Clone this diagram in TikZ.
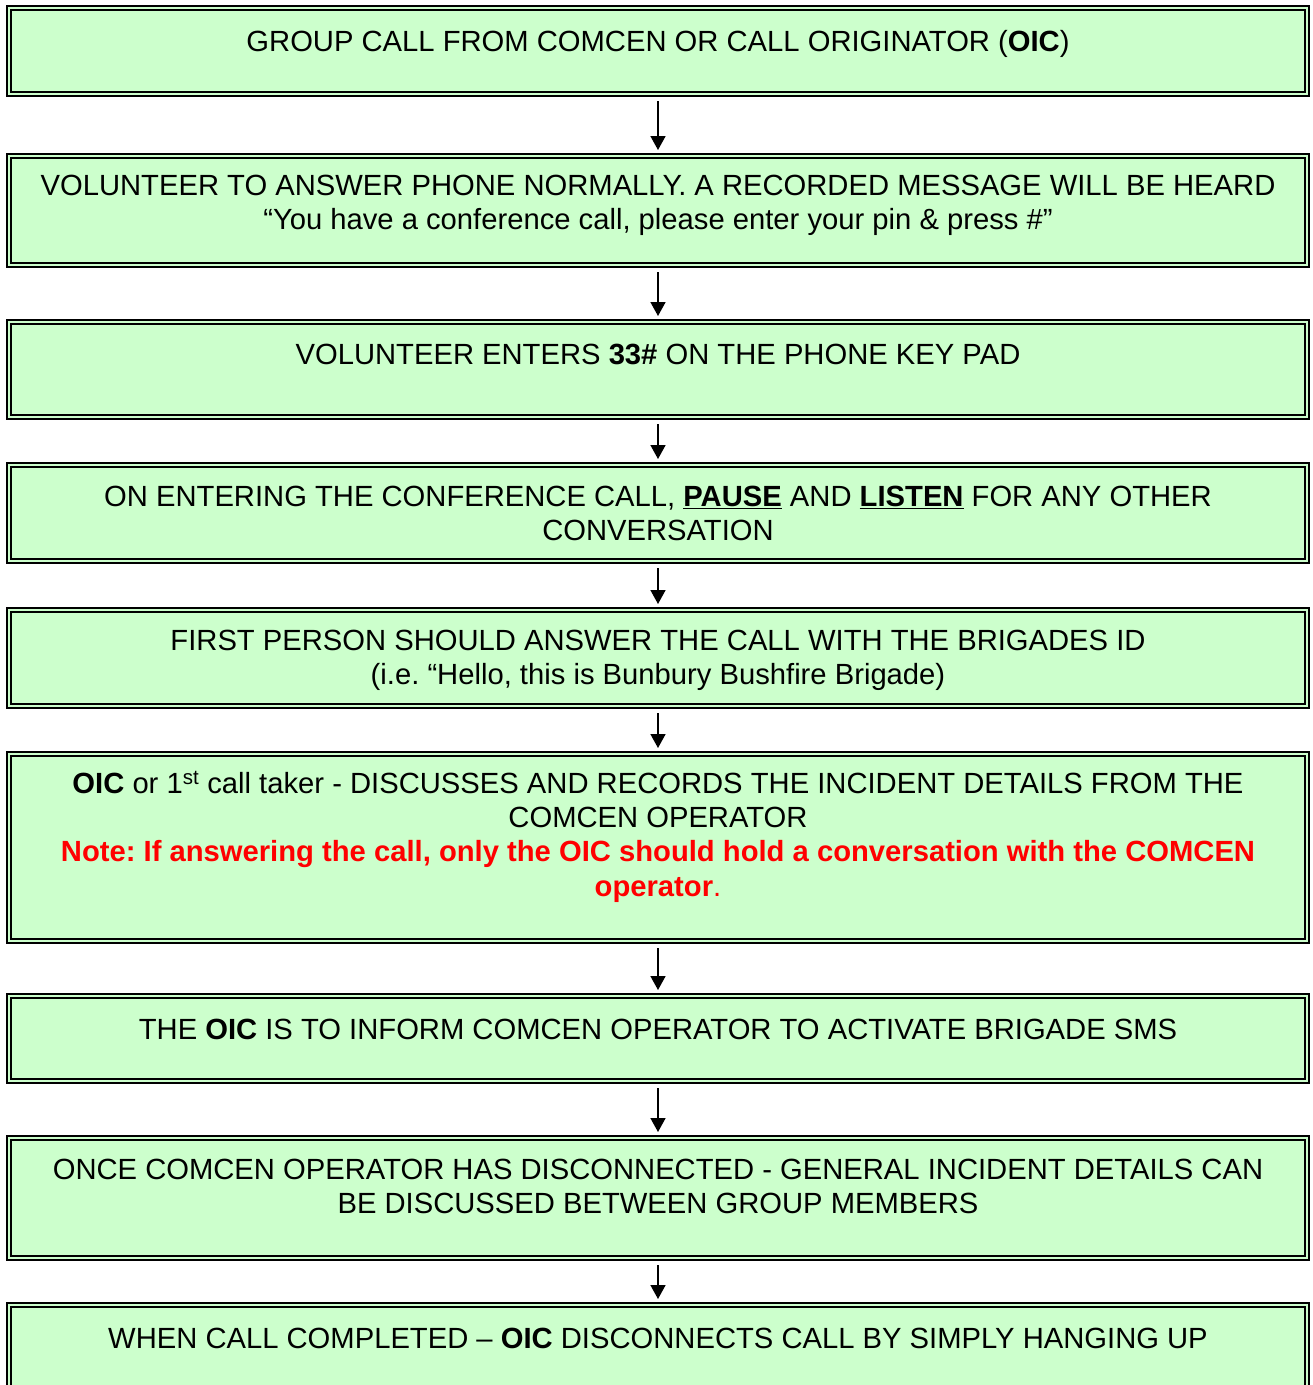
\documentclass[tikz,border=0pt]{standalone}
\usepackage{fontspec}
\setmainfont{Liberation Sans}
\usetikzlibrary{arrows.meta}
\definecolor{boxgreen}{HTML}{CCFFCC}
\definecolor{notered}{HTML}{FF0000}
\frenchspacing
\begin{document}
\frenchspacing
\begin{tikzpicture}[x=1pt,y=-1pt,
  flowbox/.style={draw=black,line width=2pt,double=boxgreen,double distance=2.2pt,fill=boxgreen},
  flowtext/.style={anchor=north,inner sep=0pt,align=center,font=\fontsize{29.2}{34}\selectfont\frenchspacing},
  flowarrow/.style={line width=1.6pt,-{Triangle[width=15pt,length=14pt]},shorten <=4pt,shorten >=3pt}]
\useasboundingbox (0,0) rectangle (1313,1385);
% boxes (path at outer edge +3)
\path[flowbox] (9,8) rectangle (1307,94);
\coordinate (b1s) at (658,97);
\path[flowbox] (9,156) rectangle (1307,265);
\coordinate (b2n) at (658,153); \coordinate (b2s) at (658,268);
\path[flowbox] (9,322) rectangle (1307,417);
\coordinate (b3n) at (658,319); \coordinate (b3s) at (658,420);
\path[flowbox] (9,465) rectangle (1307,561);
\coordinate (b4n) at (658,462); \coordinate (b4s) at (658,564);
\path[flowbox] (9,610) rectangle (1307,706);
\coordinate (b5n) at (658,607); \coordinate (b5s) at (658,709);
\path[flowbox] (9,754) rectangle (1307,941);
\coordinate (b6n) at (658,751); \coordinate (b6s) at (658,944);
\path[flowbox] (9,996) rectangle (1307,1081);
\coordinate (b7n) at (658,993); \coordinate (b7s) at (658,1084);
\path[flowbox] (9,1138) rectangle (1307,1258);
\coordinate (b8n) at (658,1135); \coordinate (b8s) at (658,1261);
\path[flowbox] (9,1305) rectangle (1307,1420);
\coordinate (b9n) at (658,1302);
% texts
\node[flowtext] (t1) at (658,30) {GROUP CALL FROM COMCEN OR CALL ORIGINATOR (\textbf{OIC})};
\node[flowtext] (t2) at (658,175) {VOLUNTEER TO ANSWER PHONE NORMALLY. A RECORDED MESSAGE WILL BE HEARD\\“You have a conference call, please enter your pin \& press \#”};
\node[flowtext] (t3) at (658,343.5) {VOLUNTEER ENTERS \textbf{33\#} ON THE PHONE KEY PAD};
\node[flowtext] (t4) at (658,485.5) {ON ENTERING THE CONFERENCE CALL, \underline{\textbf{PAUSE}} AND \underline{\textbf{LISTEN}} FOR ANY OTHER\\CONVERSATION};
\node[flowtext] (t5) at (658,629.5) {FIRST PERSON SHOULD ANSWER THE CALL WITH THE BRIGADES ID\\(i.e. “Hello, this is Bunbury Bushfire Brigade)};
\node[flowtext] (t6) at (658,771) {\textbf{OIC} or 1\textsuperscript{st} call taker - DISCUSSES AND RECORDS THE INCIDENT DETAILS FROM THE\\COMCEN OPERATOR\\\color{notered}\textbf{Note: If answering the call, only the OIC should hold a conversation with the COMCEN}\\[1pt]\color{notered}\textbf{operator}.};
\node[flowtext] (t7) at (658,1018.5) {THE \textbf{OIC} IS TO INFORM COMCEN OPERATOR TO ACTIVATE BRIGADE SMS};
\node[flowtext] (t8) at (658,1158.5) {ONCE COMCEN OPERATOR HAS DISCONNECTED - GENERAL INCIDENT DETAILS CAN\\BE DISCUSSED BETWEEN GROUP MEMBERS};
\node[flowtext] (t9) at (658,1327.5) {WHEN CALL COMPLETED – \textbf{OIC} DISCONNECTS CALL BY SIMPLY HANGING UP};
% arrows
\draw[flowarrow] (b1s) -- (b2n);
\draw[flowarrow] (b2s) -- (b3n);
\draw[flowarrow] (b3s) -- (b4n);
\draw[flowarrow] (b4s) -- (b5n);
\draw[flowarrow] (b5s) -- (b6n);
\draw[flowarrow] (b6s) -- (b7n);
\draw[flowarrow] (b7s) -- (b8n);
\draw[flowarrow] (b8s) -- (b9n);
\end{tikzpicture}
\end{document}
